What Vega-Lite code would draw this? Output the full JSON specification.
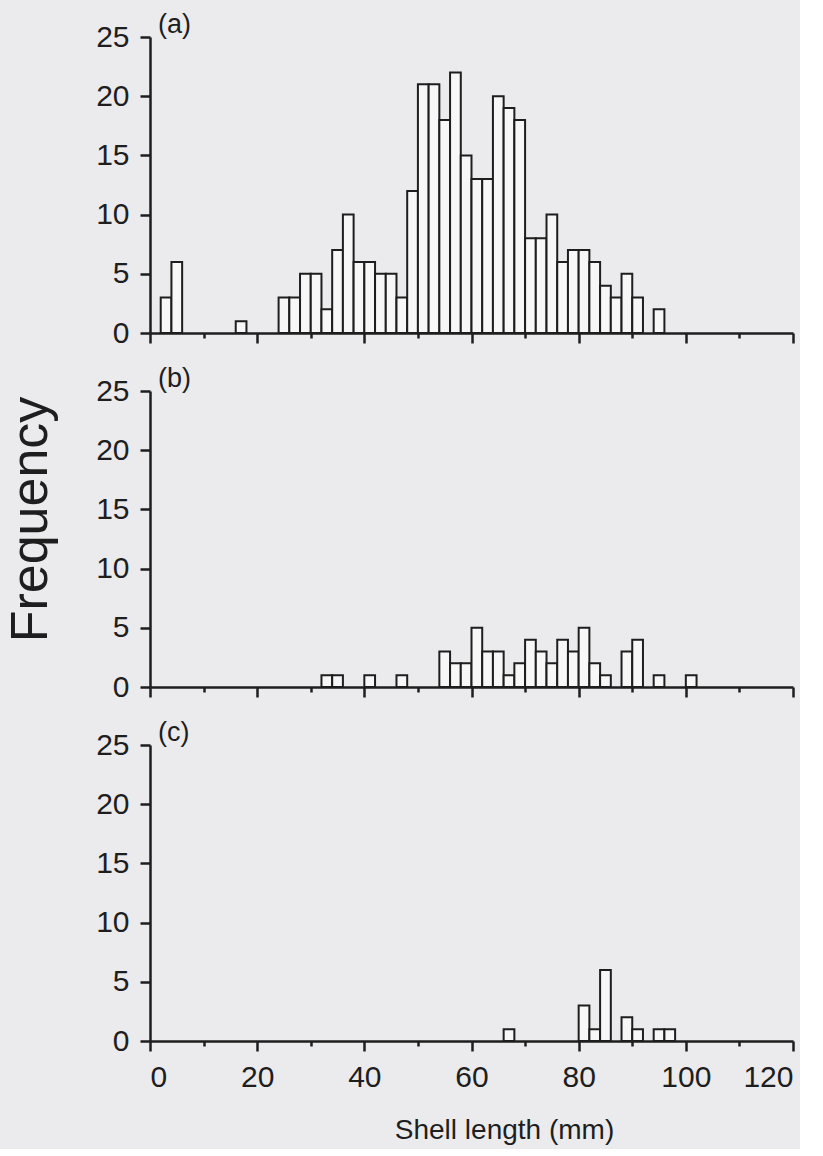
{
  "$schema": "https://vega.github.io/schema/vega-lite/v6.json",
  "background": "#ebebed",
  "padding": {"left": 4, "top": 11, "right": 5, "bottom": 5},
  "config": {
    "font": "Liberation Sans",
    "view": {"stroke": null},
    "axis": {
      "grid": false,
      "domainColor": "#1e1e1e", "domainWidth": 2.5,
      "tickColor": "#1e1e1e", "tickWidth": 2.5, "tickSize": 10,
      "labelColor": "#1e1e1e", "labelFont": "Liberation Sans", "labelFontSize": 30, "labelPadding": 11,
      "titleColor": "#1e1e1e", "titleFont": "Liberation Sans", "titleFontWeight": "normal"
    },
    "title": {"anchor": "start", "frame": "group", "fontSize": 27, "fontWeight": "normal", "color": "#1e1e1e", "font": "Liberation Sans", "offset": -17, "dx": 8}
  },
  "datasets": {
    "a": [
      {"start": 2, "end": 4, "count": 3}, {"start": 4, "end": 6, "count": 6},
      {"start": 16, "end": 18, "count": 1},
      {"start": 24, "end": 26, "count": 3}, {"start": 26, "end": 28, "count": 3},
      {"start": 28, "end": 30, "count": 5}, {"start": 30, "end": 32, "count": 5},
      {"start": 32, "end": 34, "count": 2}, {"start": 34, "end": 36, "count": 7},
      {"start": 36, "end": 38, "count": 10}, {"start": 38, "end": 40, "count": 6},
      {"start": 40, "end": 42, "count": 6}, {"start": 42, "end": 44, "count": 5},
      {"start": 44, "end": 46, "count": 5}, {"start": 46, "end": 48, "count": 3},
      {"start": 48, "end": 50, "count": 12}, {"start": 50, "end": 52, "count": 21},
      {"start": 52, "end": 54, "count": 21}, {"start": 54, "end": 56, "count": 18},
      {"start": 56, "end": 58, "count": 22}, {"start": 58, "end": 60, "count": 15},
      {"start": 60, "end": 62, "count": 13}, {"start": 62, "end": 64, "count": 13},
      {"start": 64, "end": 66, "count": 20}, {"start": 66, "end": 68, "count": 19},
      {"start": 68, "end": 70, "count": 18}, {"start": 70, "end": 72, "count": 8},
      {"start": 72, "end": 74, "count": 8}, {"start": 74, "end": 76, "count": 10},
      {"start": 76, "end": 78, "count": 6}, {"start": 78, "end": 80, "count": 7},
      {"start": 80, "end": 82, "count": 7}, {"start": 82, "end": 84, "count": 6},
      {"start": 84, "end": 86, "count": 4}, {"start": 86, "end": 88, "count": 3},
      {"start": 88, "end": 90, "count": 5}, {"start": 90, "end": 92, "count": 3},
      {"start": 94, "end": 96, "count": 2}
    ],
    "b": [
      {"start": 32, "end": 34, "count": 1}, {"start": 34, "end": 36, "count": 1},
      {"start": 40, "end": 42, "count": 1}, {"start": 46, "end": 48, "count": 1},
      {"start": 54, "end": 56, "count": 3}, {"start": 56, "end": 58, "count": 2},
      {"start": 58, "end": 60, "count": 2}, {"start": 60, "end": 62, "count": 5},
      {"start": 62, "end": 64, "count": 3}, {"start": 64, "end": 66, "count": 3},
      {"start": 66, "end": 68, "count": 1}, {"start": 68, "end": 70, "count": 2},
      {"start": 70, "end": 72, "count": 4}, {"start": 72, "end": 74, "count": 3},
      {"start": 74, "end": 76, "count": 2}, {"start": 76, "end": 78, "count": 4},
      {"start": 78, "end": 80, "count": 3}, {"start": 80, "end": 82, "count": 5},
      {"start": 82, "end": 84, "count": 2}, {"start": 84, "end": 86, "count": 1},
      {"start": 88, "end": 90, "count": 3}, {"start": 90, "end": 92, "count": 4},
      {"start": 94, "end": 96, "count": 1}, {"start": 100, "end": 102, "count": 1}
    ],
    "c": [
      {"start": 66, "end": 68, "count": 1},
      {"start": 80, "end": 82, "count": 3}, {"start": 82, "end": 84, "count": 1},
      {"start": 84, "end": 86, "count": 6}, {"start": 88, "end": 90, "count": 2},
      {"start": 90, "end": 92, "count": 1}, {"start": 94, "end": 96, "count": 1},
      {"start": 96, "end": 98, "count": 1}
    ]
  },
  "bounds": "flush",
  "spacing": 58,
  "vconcat": [
    {
      "width": 643, "height": 296,
      "title": {"text": "(a)"},
      "data": {"name": "a"},
      "mark": {"type": "bar", "fill": "#f7f7f7", "stroke": "#1e1e1e", "strokeWidth": 2},
      "encoding": {
        "x": {"field": "start", "type": "quantitative", "scale": {"domain": [0, 120], "nice": false},
              "axis": {"values": [0, 10, 20, 30, 40, 50, 60, 70, 80, 90, 100, 110, 120], "labels": false, "title": null,
                       "tickSize": {"condition": {"test": "datum.value % 20 === 0", "value": 10}, "value": 5}}},
        "x2": {"field": "end"},
        "y": {"field": "count", "type": "quantitative", "scale": {"domain": [0, 25], "nice": false},
              "axis": {"values": [0, 5, 10, 15, 20, 25], "title": null}},
        "y2": {"datum": 0}
      }
    },
    {
      "width": 643, "height": 296,
      "title": {"text": "(b)"},
      "data": {"name": "b"},
      "mark": {"type": "bar", "fill": "#f7f7f7", "stroke": "#1e1e1e", "strokeWidth": 2},
      "encoding": {
        "x": {"field": "start", "type": "quantitative", "scale": {"domain": [0, 120], "nice": false},
              "axis": {"values": [0, 10, 20, 30, 40, 50, 60, 70, 80, 90, 100, 110, 120], "labels": false, "title": null,
                       "tickSize": {"condition": {"test": "datum.value % 20 === 0", "value": 10}, "value": 5}}},
        "x2": {"field": "end"},
        "y": {"field": "count", "type": "quantitative", "scale": {"domain": [0, 25], "nice": false},
              "axis": {"values": [0, 5, 10, 15, 20, 25], "title": "Frequency", "titleFontSize": 52, "titlePadding": 38, "titleY": 128, "titleAlign": "center"}},
        "y2": {"datum": 0}
      }
    },
    {
      "width": 643, "height": 296,
      "title": {"text": "(c)"},
      "data": {"name": "c"},
      "mark": {"type": "bar", "fill": "#f7f7f7", "stroke": "#1e1e1e", "strokeWidth": 2},
      "encoding": {
        "x": {"field": "start", "type": "quantitative", "scale": {"domain": [0, 120], "nice": false},
              "axis": {"values": [0, 10, 20, 30, 40, 50, 60, 70, 80, 90, 100, 110, 120],
                       "labelExpr": "datum.value % 20 === 0 ? datum.label : ''",
                       "tickSize": {"condition": {"test": "datum.value % 20 === 0", "value": 10}, "value": 5},
                       "title": "Shell length (mm)", "titleFontSize": 28, "titlePadding": 24, "titleX": 354}},
        "x2": {"field": "end"},
        "y": {"field": "count", "type": "quantitative", "scale": {"domain": [0, 25], "nice": false},
              "axis": {"values": [0, 5, 10, 15, 20, 25], "title": null}},
        "y2": {"datum": 0}
      }
    }
  ]
}
